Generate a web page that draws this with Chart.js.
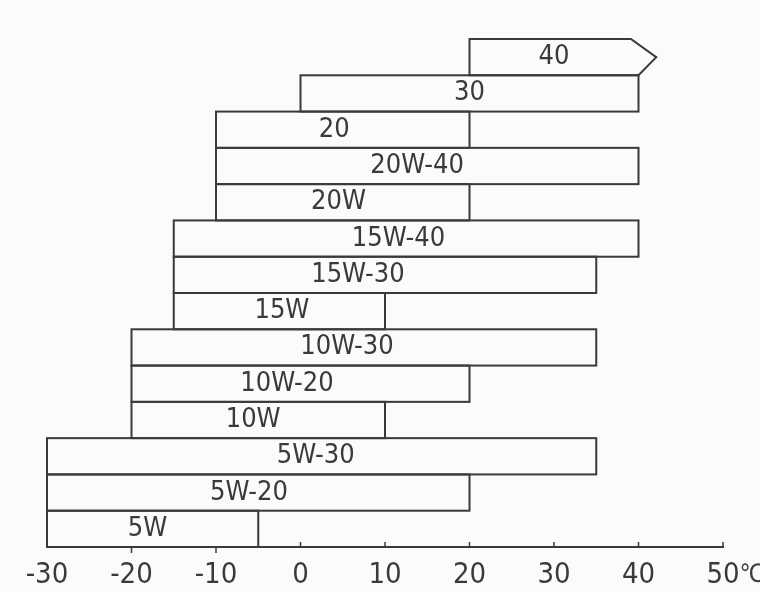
<!DOCTYPE html>
<html>
<head>
<meta charset="utf-8">
<script src="https://cdn.jsdelivr.net/npm/chart.js@4"></script>
<style>
  body { margin: 0; background: #fbfbf9; }
  #wrap { width: 760px; height: 592px; }
</style>
</head>
<body>
<div id="wrap"><canvas id="chart"></canvas></div>
<script>
// oil grades, top to bottom, with the ambient temperature range (°C) each one covers
const grades = ["40", "30", "20", "20W-40", "20W", "15W-40", "15W-30", "15W", "10W-30", "10W-20", "10W", "5W-30", "5W-20", "5W"];
const lowTemps = [20, 0, -10, -10, -10, -15, -15, -15, -20, -20, -20, -30, -30, -30];
const highTemps = [40, 40, 20, 40, 20, 40, 35, 10, 35, 20, 10, 35, 20, -5];
// where the grade name sits along the bar (°C)
const labelTemps = [30, 20, 4, 13.8, 4.5, 11.6, 6.8, -2.2, 5.5, -1.6, -5.6, 1.8, -6.1, -18.1];
const tickValues = [-30, -20, -10, 0, 10, 20, 30, 40, 50];
const unitLabel = "℃";

const ink = "#3a3a3a";
const paper = "#fbfbf9";
const fontFamily = '"DejaVu Sans Condensed", "Liberation Sans Narrow", "DejaVu Sans", sans-serif';

// paper background
const bgPlugin = {
  id: "bg",
  beforeDraw(chart) {
    const ctx = chart.ctx;
    ctx.save();
    ctx.fillStyle = paper;
    ctx.fillRect(0, 0, chart.width, chart.height);
    ctx.restore();
  }
};

// outlines (shared edges drawn once), arrow on "40", grade names, tick marks
const overlayPlugin = {
  id: "overlay",
  afterDatasetsDraw(chart) {
    const ctx = chart.ctx;
    const xScale = chart.scales.x;
    const meta = chart.getDatasetMeta(0);

    ctx.save();
    ctx.strokeStyle = ink;
    ctx.lineWidth = 2;
    ctx.lineJoin = "miter";
    meta.data.forEach((bar, i) => {
      const t = bar.y - bar.height / 2;
      const b = bar.y + bar.height / 2;
      if (i === 0) {
        // open-ended top grade: pointed right end
        const shoulder = xScale.getPixelForValue(highTemps[0] - 0.9);
        const tip = xScale.getPixelForValue(highTemps[0] + 2.1);
        ctx.beginPath();
        ctx.moveTo(bar.base, b);
        ctx.lineTo(bar.base, t);
        ctx.lineTo(shoulder, t);
        ctx.lineTo(tip, bar.y);
        ctx.lineTo(bar.x, b);
        ctx.closePath();
        ctx.fillStyle = paper;
        ctx.fill();
        ctx.stroke();
      } else {
        ctx.strokeRect(bar.base, t, bar.x - bar.base, b - t);
      }
    });
    ctx.restore();

    // grade names
    ctx.save();
    ctx.font = "27px " + fontFamily;
    ctx.fillStyle = ink;
    ctx.textAlign = "center";
    ctx.textBaseline = "middle";
    grades.forEach((g, i) => {
      const bar = meta.data[i];
      ctx.fillText(g, xScale.getPixelForValue(labelTemps[i]), bar.y);
    });
    ctx.restore();

    // small tick marks on the axis line
    const bottom = chart.chartArea.bottom;
    const lastEnd = highTemps[highTemps.length - 1];
    ctx.save();
    ctx.strokeStyle = ink;
    ctx.lineWidth = 1.5;
    tickValues.slice(1).forEach((v) => {
      const x = xScale.getPixelForValue(v);
      ctx.beginPath();
      if (v < lastEnd) {
        ctx.moveTo(x, bottom);
        ctx.lineTo(x, bottom + 6);
      } else {
        ctx.moveTo(x, bottom);
        ctx.lineTo(x, bottom - 5);
      }
      ctx.stroke();
    });
    ctx.restore();
  },
  afterDraw(chart) {
    // unit sign after the last tick label
    const ctx = chart.ctx;
    const xScale = chart.scales.x;
    const last = tickValues[tickValues.length - 1];
    ctx.save();
    ctx.font = "29px " + fontFamily;
    const half = ctx.measureText(String(last)).width / 2;
    ctx.font = "25px " + fontFamily;
    ctx.fillStyle = ink;
    ctx.textAlign = "left";
    ctx.textBaseline = "middle";
    ctx.fillText(unitLabel, xScale.getPixelForValue(last) + half, chart.chartArea.bottom + 28);
    ctx.restore();
  }
};

new Chart(document.getElementById("chart"), {
  type: "bar",
  data: {
    labels: grades,
    datasets: [{
      data: grades.map((g, i) => [lowTemps[i], highTemps[i]]),
      backgroundColor: paper,
      borderWidth: 0,
      barPercentage: 1,
      categoryPercentage: 1
    }]
  },
  options: {
    indexAxis: "y",
    responsive: true,
    maintainAspectRatio: false,
    animation: false,
    layout: { padding: { top: 39, left: 47, right: 37, bottom: 3 } },
    plugins: {
      legend: { display: false },
      tooltip: { enabled: false }
    },
    scales: {
      y: { display: false },
      x: {
        type: "linear",
        min: -30,
        max: 50,
        afterBuildTicks: (scale) => {
          scale.ticks = tickValues.map((v) => ({ value: v }));
        },
        afterFit: (scale) => {
          scale.height = 42;
        },
        ticks: {
          color: ink,
          padding: 14,
          font: { family: fontFamily, size: 29, lineHeight: 1 }
        },
        grid: { display: false, drawTicks: false },
        border: { display: true, color: ink, width: 2 }
      }
    }
  },
  plugins: [bgPlugin, overlayPlugin]
});
</script>
</body>
</html>
